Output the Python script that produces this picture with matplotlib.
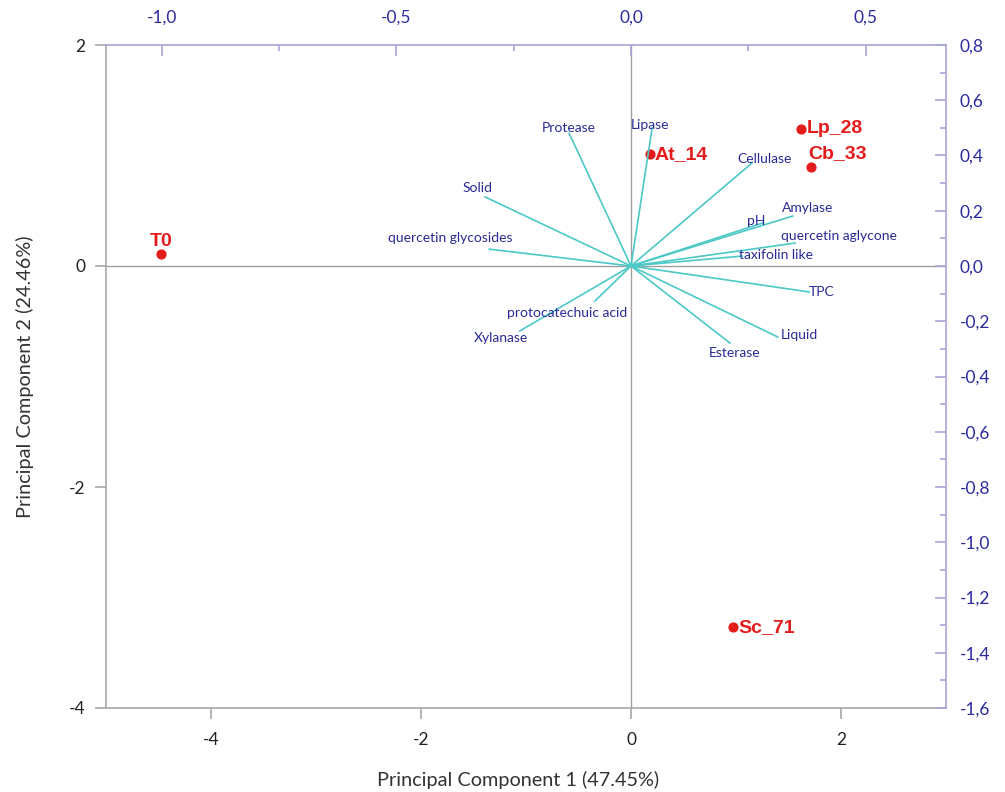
import matplotlib
matplotlib.use('Agg')
import matplotlib.pyplot as plt
from matplotlib.ticker import FuncFormatter, MultipleLocator

plt.rcParams['font.family'] = ['Lato', 'DejaVu Sans']

# scores (PC1 / PC2)
samples = ['T0', 'At_14', 'Lp_28', 'Cb_33', 'Sc_71']
score_x = [-4.48, 0.18, 1.62, 1.71, 0.97]
score_y = [0.11, 1.01, 1.24, 0.90, -3.27]

# loadings (top / right axes)
variables = ['Protease', 'Lipase', 'Cellulase', 'Solid', 'quercetin glycosides',
             'Amylase', 'pH', 'quercetin aglycone', 'taxifolin like', 'TPC',
             'Liquid', 'Esterase', 'protocatechuic acid', 'Xylanase']
load_x = [-0.132, 0.045, 0.258, -0.311, -0.302, 0.345, 0.281, 0.350, 0.237,
          0.380, 0.313, 0.211, -0.077, -0.237]
load_y = [0.481, 0.499, 0.373, 0.250, 0.061, 0.181, 0.156, 0.083, 0.036,
          -0.094, -0.257, -0.279, -0.127, -0.235]

# label offsets in pixels (layout only)
var_off = [(0, 5), (-2, 3), (13, 4), (-8, 9), (-39, 11), (15, 8), (-7, 2),
           (44, 7), (34, 1), (12, 0), (22, 2), (5, -10), (-28, -12), (-19, -7)]
smp_off = [(1, 12, 'center'), (5, 0, 'left'), (6, 0, 'left'), (-2, 13, 'left'),
           (6, 0, 'left')]

comma = FuncFormatter(lambda v, p: ('%.1f' % v).replace('.', ','))
intfmt = FuncFormatter(lambda v, p: '%d' % round(v))

fig = plt.figure(figsize=(10.05, 7.92), dpi=100)
pos = [106 / 1005, 84 / 792, 840 / 1005, 663 / 792]
ax = fig.add_axes(pos)
ax.set_xlim(-5, 3)
ax.set_ylim(-4, 2)
ax.axhline(0, color='#a0a0a0', lw=1, zorder=1)
ax.axvline(0, color='#a0a0a0', lw=1, zorder=1)
for s in ['top', 'right']:
    ax.spines[s].set_visible(False)
for s in ['left', 'bottom']:
    ax.spines[s].set_color('#a8a8a8')
    ax.spines[s].set_linewidth(1.2)
ax.xaxis.set_major_locator(MultipleLocator(2))
ax.yaxis.set_major_locator(MultipleLocator(2))
ax.xaxis.set_major_formatter(intfmt)
ax.yaxis.set_major_formatter(intfmt)
ax.tick_params(axis='x', direction='out', length=8, width=1.2, color='#a8a8a8',
               labelsize=12.5, pad=9, labelcolor='#222222')
ax.tick_params(axis='y', direction='out', length=8, width=1.2, color='#a8a8a8',
               labelsize=12.5, pad=7, labelcolor='#222222')
ax.set_xlabel('Principal Component 1 (47.45%)', fontsize=14.3, color='#333333', labelpad=16)
ax.set_ylabel('Principal Component 2 (24.46%)', fontsize=14.3, color='#333333', labelpad=25)
ax.xaxis.set_label_coords(0.49, -0.095)

ax.scatter(score_x, score_y, s=40, color='#e31b1b', zorder=4)
for name, x, y, (dx, dy, ha) in zip(samples, score_x, score_y, smp_off):
    ax.annotate(name, (x, y), xytext=(dx, dy), textcoords='offset pixels',
                ha=ha, va='center', fontsize=14, fontweight='bold',
                color='#e31b1b', family=['Liberation Sans', 'DejaVu Sans'], zorder=5)

# loading axes
sx = 4.467
ax2 = fig.add_axes(pos)
ax2.patch.set_alpha(0)
ax2.set_xlim(-5 / sx, 3 / sx)
ax2.set_ylim(-1.6, 0.8)
ax2.xaxis.tick_top()
ax2.yaxis.tick_right()
for s in ['left', 'bottom']:
    ax2.spines[s].set_visible(False)
for s in ['top', 'right']:
    ax2.spines[s].set_color('#a6a6d8')
    ax2.spines[s].set_linewidth(1.2)
ax2.xaxis.set_major_locator(MultipleLocator(0.5))
ax2.xaxis.set_minor_locator(MultipleLocator(0.25))
ax2.yaxis.set_major_locator(MultipleLocator(0.2))
ax2.yaxis.set_minor_locator(MultipleLocator(0.1))
ax2.xaxis.set_major_formatter(comma)
ax2.yaxis.set_major_formatter(comma)
ax2.tick_params(which='major', direction='in', length=8, width=1.2, color='#a6a6d8',
                labelsize=12.5, labelcolor='#2b2ba0')
ax2.tick_params(which='minor', direction='in', length=4, width=1.2, color='#a6a6d8')
ax2.tick_params(axis='x', which='major', pad=14)
ax2.tick_params(axis='y', which='major', pad=10)

for name, x, y, (dx, dy) in zip(variables, load_x, load_y, var_off):
    ax2.plot([0, x], [0, y], color='#4cc8c8', lw=1.2, zorder=2)
    ax2.annotate(name, (x, y), xytext=(dx, dy), textcoords='offset pixels',
                 ha='center', va='center', fontsize=10, color='#2a2a96', zorder=3)

fig.savefig('out.png', dpi=100)
